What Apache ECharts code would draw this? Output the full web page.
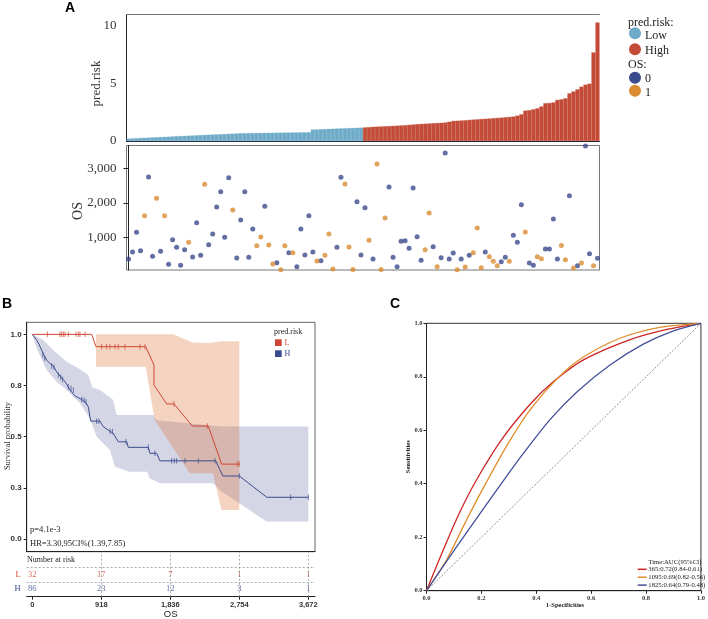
<!DOCTYPE html>
<html>
<head>
<meta charset="utf-8">
<script src="https://cdn.jsdelivr.net/npm/echarts@6/dist/echarts.min.js"></script>
<style>
  html, body { margin: 0; padding: 0; background: #fff; }
  #main { width: 708px; height: 619px; }
</style>
</head>
<body>
<div id="main"></div>
<script>
// ---------- panel A : risk score + OS ----------
var riskLow = [0.20,0.22,0.24,0.26,0.27,0.29,0.31,0.32,0.34,0.36,
  0.37,0.39,0.41,0.42,0.44,0.46,0.47,0.49,0.51,0.52,
  0.54,0.56,0.57,0.59,0.60,0.62,0.63,0.65,0.67,0.68,
  0.68,0.69,0.69,0.70,0.70,0.71,0.71,0.72,0.72,0.73,
  0.73,0.74,0.74,0.75,0.75,0.76,0.99,1.00,1.02,1.03,
  1.05,1.06,1.08,1.09,1.10,1.12,1.13,1.14,1.16]
var riskHigh = [1.18,1.20,1.23,1.25,1.26,1.28,1.29,1.31,1.33,1.35,
  1.37,1.40,1.43,1.46,1.48,1.50,1.52,1.54,1.56,1.58,
  1.60,1.67,1.74,1.76,1.78,1.80,1.83,1.86,1.88,1.91,
  1.93,1.95,1.98,2.00,2.03,2.06,2.09,2.12,2.20,2.32,
  2.64,2.68,2.75,2.84,3.00,3.28,3.30,3.35,3.57,3.62,
  3.71,4.14,4.30,4.49,4.72,4.90,4.98,7.70,10.30]
var osTime = [377,579,1147,618,1628,2744,454,2128,598,1628,
  223,935,714,194,646,858,435,1425,483,2532,
  791,1099,1878,2320,1003,2725,1791,406,1503,2320,
  425,1243,761,1012,1897,780,233,272,70,761,
  560,560,156,1243,493,1628,579,319,329,483,
  1099,88,714,2735,2541,722,75,2030,493,1857,
  916,377,3117,75,1560,2455,425,156,887,906,
  685,2426,1022,339,646,1705,733,156,416,3437,
  377,550,65,377,146,483,560,1272,127,579,
  445,310,185,300,425,310,1060,858,1945,1157,
  262,194,445,387,664,664,1531,377,770,358,
  2205,117,185,262,3640,531,185,396]
var osStatus = [0,0,0,0,1,0,0,1,0,1,
  0,0,0,0,0,1,0,0,0,1,
  0,0,0,0,0,0,1,0,0,0,
  0,0,1,1,0,1,1,0,1,1,
  0,1,0,0,0,0,0,1,0,1,
  1,1,0,0,1,1,1,0,0,0,
  1,0,1,1,1,0,0,0,0,0,
  0,0,0,0,1,1,0,1,0,0,
  0,0,1,0,1,0,1,1,1,0,
  1,1,1,0,0,1,0,0,0,1,
  0,0,1,1,0,0,0,0,1,1,
  0,1,0,1,0,0,1,0]
var riskTicks = [0, 5, 10]
var osTicks = [1000, 2000, 3000]

// ---------- panel B : Kaplan-Meier ----------
var kmXTicks = [0, 918, 1836, 2754, 3672]
var kmYTicks = [0, 0.25, 0.5, 0.75, 1]
var kmYLabels = ['0.0', '0.3', '0.5', '0.8', '1.0']
var kmLow = [[0,1],[790,1],[847,0.94],[1508,0.94],[1619,0.85],[1619,0.752],[1788,0.66],[1885,0.66],
  [2129,0.552],[2341,0.552],[2519,0.366],[2754,0.366]]
var kmHigh = [[0,1],[58,0.972],[93,0.948],[125,0.923],[160,0.896],[191,0.874],[235,0.858],[279,0.845],
  [324,0.817],[368,0.796],[412,0.78],[457,0.757],[501,0.728],[568,0.699],[657,0.682],[714,0.666],
  [745,0.646],[777,0.576],[900,0.576],[944,0.549],[1011,0.532],[1077,0.516],[1144,0.475],[1256,0.475],
  [1277,0.448],[1543,0.448],[1565,0.419],[1654,0.419],[1698,0.382],[2440,0.382],[2535,0.308],
  [2754,0.308],[3120,0.204],[3672,0.204]]
var kmLowCensor = [[200,1],[368,1],[391,1],[413,1],[435,1],[479,1],[581,1],[612,1],[634,1],[701,1],
  [923,0.94],[989,0.94],[1033,0.94],[1100,0.94],[1144,0.94],[1233,0.94],[1432,0.94],[1499,0.94],
  [1885,0.66],[2328,0.552],[2727,0.366],[2754,0.366]]
var kmHighCensor = [[138,0.899],[165,0.883],[258,0.845],[289,0.839],[346,0.801],[378,0.79],[404,0.78],
  [479,0.744],[515,0.736],[546,0.728],[657,0.682],[688,0.679],[714,0.671],[857,0.576],[887,0.576],
  [1034,0.525],[1065,0.525],[1247,0.475],[1543,0.448],[1632,0.419],[1854,0.382],[1889,0.382],
  [1921,0.382],[2032,0.382],[2209,0.382],[2431,0.382],[2754,0.308],[3438,0.204],[3672,0.204]]
var kmLowUpper = [[847,1],[1876,1],[2129,0.96],[2350,0.958],[2519,0.966],[2754,0.966]]
var kmLowLower = [[847,0.842],[1508,0.842],[1629,0.58],[2094,0.321],[2404,0.321],[2516,0.142],[2754,0.142]]
var kmHighUpper = [[0,1],[146,0.972],[279,0.923],[457,0.866],[590,0.839],[745,0.801],[800,0.74],
  [900,0.728],[1077,0.679],[1122,0.606],[1609,0.606],[1654,0.58],[2318,0.557],[2519,0.55],[3672,0.55]]
var kmHighLower = [[0,1],[58,0.932],[191,0.826],[324,0.768],[457,0.728],[634,0.663],[767,0.588],
  [856,0.5],[1033,0.435],[1100,0.353],[1291,0.329],[1530,0.329],[1560,0.297],[1698,0.272],
  [2404,0.272],[2519,0.232],[2754,0.175],[3117,0.085],[3672,0.085]]
var atRiskLow = [32, 17, 7, 1, 1]
var atRiskHigh = [86, 23, 12, 3, 1]

// ---------- panel C : time ROC ----------
var rocTicks = [0, 0.2, 0.4, 0.6, 0.8, 1]
var roc365Fpr = [0,0.061,0.122,0.182,0.273,0.38,0.466,0.575,0.745,0.88,1]
var roc365Tpr = [0,0.152,0.295,0.414,0.564,0.70,0.785,0.865,0.94,0.978,1]
var roc1095Fpr = [0,0.073,0.146,0.218,0.303,0.38,0.478,0.569,0.707,0.85,1]
var roc1095Tpr = [0,0.115,0.265,0.405,0.56,0.68,0.795,0.872,0.945,0.985,1]
var roc1825Fpr = [0,0.1,0.2,0.3,0.358,0.45,0.55,0.67,0.79,0.9,1]
var roc1825Tpr = [0,0.15,0.296,0.44,0.52,0.64,0.745,0.845,0.922,0.972,1]
var rocDiag = [[0,0],[1,1]]
var aucLabels = ['365:0.72(0.84-0.61)', '1095:0.69(0.82-0.56)', '1825:0.64(0.79-0.48)']

var cLow = '#6dabc8', cHigh = '#c34b37', cAlive = '#3c4b8c', cDead = '#d98c32'
var kmRed = '#cd4632', kmBlue = '#3c4b8c'
var rocColors = ['#cc2424', '#e08e2c', '#44509a']
var serif = '"Liberation Serif", "Times New Roman", serif'
var sans = '"Liberation Sans", Arial, sans-serif'

var chart = echarts.init(document.getElementById('main'))

function pairs(xs, ys) {
  return xs.map(function (x, i) { return [x, ys[i]] })
}
function band(xi, upper, lower, color) {
  return {
    type: 'custom', xAxisIndex: xi, yAxisIndex: xi, silent: true, z: 1,
    data: [[0, 0]],
    renderItem: function (params, api) {
      var pts = []
      upper.forEach(function (p) { pts.push(api.coord(p)) })
      lower.slice().reverse().forEach(function (p) { pts.push(api.coord(p)) })
      return { type: 'polygon', shape: { points: pts }, style: { fill: color } }
    }
  }
}
function txt(s, x, y, font, color, align, rot) {
  return { type: 'text', x: x, y: y, rotation: rot || 0,
    style: { text: s, font: font, fill: color || '#222', align: align || 'left', verticalAlign: 'middle' } }
}

var riskAll = riskLow.concat(riskHigh)
var patients = riskAll.map(function (v, i) { return 'P' + (i + 1) })
var barData = riskAll.map(function (v, i) {
  var c = i < riskLow.length ? cLow : cHigh
  return { value: v, itemStyle: { color: c, borderColor: c, borderWidth: 0.3 } }
})
var alive = [], dead = []
osTime.forEach(function (t, i) { (osStatus[i] ? dead : alive).push([i, t]) })

var rocSeries = [[roc365Fpr, roc365Tpr], [roc1095Fpr, roc1095Tpr], [roc1825Fpr, roc1825Tpr]].map(function (r, k) {
  return { type: 'line', name: aucLabels[k], xAxisIndex: 4, yAxisIndex: 4, data: pairs(r[0], r[1]),
    smooth: 0.3, symbol: 'none', lineStyle: { color: rocColors[k], width: 1.3 }, z: 5 }
})

var graphics = [
  txt('A', 70, 8, 'bold 14px ' + sans, '#000', 'center'),
  txt('B', 7, 304, 'bold 14px ' + sans, '#000', 'center'),
  txt('C', 395, 304, 'bold 14px ' + sans, '#000', 'center'),
  txt('pred.risk', 97, 83.5, '13px ' + serif, '#333', 'center', Math.PI / 2),
  txt('OS', 78, 211, '14px ' + serif, '#333', 'center', Math.PI / 2),
  txt('pred.risk:', 628, 22.7, '12px ' + serif, '#222'),
  { type: 'circle', shape: { cx: 635, cy: 33.3, r: 6 }, style: { fill: cLow } },
  txt('Low', 645, 35.5, '12px ' + serif, '#222'),
  { type: 'circle', shape: { cx: 635, cy: 49.3, r: 6 }, style: { fill: cHigh } },
  txt('High', 645, 50.5, '12px ' + serif, '#222'),
  txt('OS:', 628, 65, '12px ' + serif, '#222'),
  { type: 'circle', shape: { cx: 635, cy: 77.7, r: 6 }, style: { fill: cAlive } },
  txt('0', 645, 79, '12px ' + serif, '#222'),
  { type: 'circle', shape: { cx: 635, cy: 90.7, r: 6 }, style: { fill: cDead } },
  txt('1', 645, 92.5, '12px ' + serif, '#222'),
  // panel B texts
  txt('Survival probability', 8, 436, '8.5px ' + serif, '#333', 'center', Math.PI / 2),
  txt('pred.risk', 274, 332.3, '8px ' + serif, '#222'),
  { type: 'rect', shape: { x: 275, y: 339.3, width: 6.7, height: 6.7 }, style: { fill: kmRed } },
  txt('L', 284.5, 343, '8px ' + serif, kmRed),
  { type: 'rect', shape: { x: 275, y: 350.3, width: 6.7, height: 6.7 }, style: { fill: kmBlue } },
  txt('H', 284.5, 354, '8px ' + serif, kmBlue),
  txt('p=4.1e-3', 30, 529.3, '8.5px ' + serif, '#222'),
  txt('HR=3.30,95CI%(1.39,7.85)', 30, 543.3, '8.5px ' + serif, '#222'),
  txt('Number at risk', 27, 560, '8px ' + serif, '#222'),
  txt('OS', 170.7, 614, '9.5px ' + sans, '#222', 'center'),
  // panel C texts
  txt('Sensitivities', 408.3, 456.7, 'bold 6.5px ' + serif, '#222', 'center', Math.PI / 2),
  txt('1-Specificities', 565, 605.7, 'bold 6.5px ' + serif, '#222', 'center'),
  txt('Time:AUC(95%CI)', 648.3, 562.7, '6.7px ' + serif, '#222')
]
aucLabels.forEach(function (s, k) {
  var y = 569.3 + k * 7.9
  graphics.push({ type: 'line', shape: { x1: 637.7, y1: y, x2: 646.7, y2: y },
    style: { stroke: rocColors[k], lineWidth: 1.5 } })
  graphics.push(txt(s, 648.3, y, '6.7px ' + serif, '#222'))
})

var hideAxis = { axisLine: { show: false }, axisTick: { show: false }, axisLabel: { show: false }, splitLine: { show: false } }

var option = {
  animation: false,
  backgroundColor: '#fff',
  grid: [
    { left: 126.5, top: 14.5, width: 473, height: 126.5 },
    { left: 126.5, top: 145.5, width: 473, height: 124.5, show: true, borderColor: '#777', borderWidth: 1 },
    { left: 26.7, top: 322.3, width: 288.3, height: 229.4, show: true, borderColor: '#666', borderWidth: 1 },
    { left: 26.7, top: 552, width: 288.3, height: 44.7 },
    { left: 426.5, top: 323.3, width: 275.5, height: 267.4, show: true, borderColor: '#333', borderWidth: 1 }
  ],
  xAxis: [
    Object.assign({ type: 'category', gridIndex: 0, data: patients }, hideAxis,
      { axisLine: { show: true, lineStyle: { color: '#223', width: 1.2 } } }),
    Object.assign({ type: 'value', gridIndex: 1, min: -0.5, max: 117.5 }, hideAxis),
    Object.assign({ type: 'value', gridIndex: 2, min: -74.5, max: 3761 }, hideAxis,
      { axisLine: { show: true, onZero: false, lineStyle: { color: '#222', width: 1.2 } } }),
    { type: 'value', gridIndex: 3, min: -74.5, max: 3761, splitLine: { show: false },
      axisLine: { onZero: false, lineStyle: { color: '#222', width: 1.2 } },
      axisTick: { customValues: kmXTicks, length: 3, lineStyle: { color: '#222' } },
      axisLabel: { customValues: kmXTicks, margin: 4, fontSize: 7.5, fontWeight: 'bold', fontFamily: sans, color: '#333',
        formatter: function (v) { return v.toLocaleString('en-US') } } },
    { type: 'value', gridIndex: 4, min: 0, max: 1, interval: 0.2, splitLine: { show: false },
      axisLine: { onZero: false, lineStyle: { color: '#222' } },
      axisTick: { length: 3, lineStyle: { color: '#222' } },
      axisLabel: { margin: 4, fontSize: 6.5, fontWeight: 'bold', fontFamily: serif, color: '#333',
        formatter: function (v) { return v.toFixed(1) } } },
    Object.assign({ type: 'category', gridIndex: 0, position: 'top', data: patients }, hideAxis,
      { axisLine: { show: true, lineStyle: { color: '#777', width: 1 } } })
  ],
  yAxis: [
    { type: 'value', gridIndex: 0, min: 0, max: 11, splitLine: { show: false },
      axisLine: { show: true, lineStyle: { color: '#222' } },
      axisTick: { customValues: riskTicks, length: 5, lineStyle: { color: '#222' } },
      axisLabel: { customValues: riskTicks, margin: 10, fontSize: 13, fontFamily: serif, color: '#333' } },
    { type: 'value', gridIndex: 1, min: 60, max: 3652, splitLine: { show: false },
      axisLine: { show: true, lineStyle: { color: '#222' } },
      axisTick: { customValues: osTicks, length: 5, lineStyle: { color: '#222' } },
      axisLabel: { customValues: osTicks, margin: 10, fontSize: 13, fontFamily: serif, color: '#333',
        formatter: function (v) { return v.toLocaleString('en-US') } } },
    { type: 'value', gridIndex: 2, min: -0.062, max: 1.059, splitLine: { show: false },
      axisLine: { show: true, onZero: false, lineStyle: { color: '#222' } },
      axisTick: { customValues: kmYTicks, length: 3, lineStyle: { color: '#222' } },
      axisLabel: { customValues: kmYTicks, margin: 5, fontSize: 8, fontWeight: 'bold', fontFamily: sans, color: '#333',
        formatter: function (v) { return kmYLabels[kmYTicks.indexOf(v)] } } },
    { type: 'value', gridIndex: 3, min: 0, max: 3, splitLine: { show: false },
      axisLine: { show: false }, axisTick: { show: false },
      axisLabel: { customValues: [0.5, 1.5], margin: 6, fontSize: 8.5, fontFamily: serif,
        formatter: function (v) { return v < 1 ? 'H' : 'L' },
        color: function (v) { return v < 1 ? kmBlue : kmRed } } },
    { type: 'value', gridIndex: 4, min: 0, max: 1, interval: 0.2, splitLine: { show: false },
      axisLine: { onZero: false, lineStyle: { color: '#222' } },
      axisTick: { length: 3, lineStyle: { color: '#222' } },
      axisLabel: { margin: 4, fontSize: 6.5, fontWeight: 'bold', fontFamily: serif, color: '#333',
        formatter: function (v) { return v.toFixed(1) } } }
  ],
  series: [
    { type: 'bar', xAxisIndex: 0, yAxisIndex: 0, data: barData, barCategoryGap: '0%' },
    { type: 'scatter', xAxisIndex: 1, yAxisIndex: 1, data: alive, symbolSize: 5, clip: false,
      itemStyle: { color: cAlive } },
    { type: 'scatter', xAxisIndex: 1, yAxisIndex: 1, data: dead, symbolSize: 5, clip: false,
      itemStyle: { color: cDead } },
    band(2, kmHighUpper, kmHighLower, 'rgba(60,70,140,0.22)'),
    band(2, kmLowUpper, kmLowLower, 'rgba(220,110,50,0.3)'),
    { type: 'line', xAxisIndex: 2, yAxisIndex: 2, data: kmHigh, symbol: 'none', z: 4,
      lineStyle: { color: kmBlue, width: 1 } },
    { type: 'line', xAxisIndex: 2, yAxisIndex: 2, data: kmLow, symbol: 'none', z: 4,
      lineStyle: { color: kmRed, width: 1 } },
    { type: 'scatter', xAxisIndex: 2, yAxisIndex: 2, data: kmHighCensor, symbol: 'rect', symbolSize: [0.9, 5.5],
      itemStyle: { color: kmBlue }, z: 5 },
    { type: 'scatter', xAxisIndex: 2, yAxisIndex: 2, data: kmLowCensor, symbol: 'rect', symbolSize: [0.9, 5.5],
      itemStyle: { color: kmRed }, z: 5 },
    { type: 'scatter', xAxisIndex: 3, yAxisIndex: 3, symbolSize: 1, itemStyle: { color: 'rgba(0,0,0,0)' },
      data: kmXTicks.map(function (t, i) { return [t, 1.5, atRiskLow[i]] }),
      label: { show: true, position: 'inside', formatter: function (p) { return p.value[2] },
        fontSize: 8.5, fontFamily: serif, color: kmRed },
      markLine: { silent: true, symbol: 'none', label: { show: false },
        lineStyle: { type: [2, 2], color: '#888', width: 0.7 },
        data: [{ yAxis: 1 }, { yAxis: 2 }, { xAxis: 918 }, { xAxis: 1836 }, { xAxis: 2754 }, { xAxis: 3672 }] } },
    { type: 'scatter', xAxisIndex: 3, yAxisIndex: 3, symbolSize: 1, itemStyle: { color: 'rgba(0,0,0,0)' },
      data: kmXTicks.map(function (t, i) { return [t, 0.5, atRiskHigh[i]] }),
      label: { show: true, position: 'inside', formatter: function (p) { return p.value[2] },
        fontSize: 8.5, fontFamily: serif, color: kmBlue } },
    { type: 'line', xAxisIndex: 4, yAxisIndex: 4, data: rocDiag, symbol: 'none',
      lineStyle: { color: '#444', width: 0.6, type: [2, 1.5] } }
  ].concat(rocSeries),
  graphic: graphics
}

chart.setOption(option)
</script>
</body>
</html>
